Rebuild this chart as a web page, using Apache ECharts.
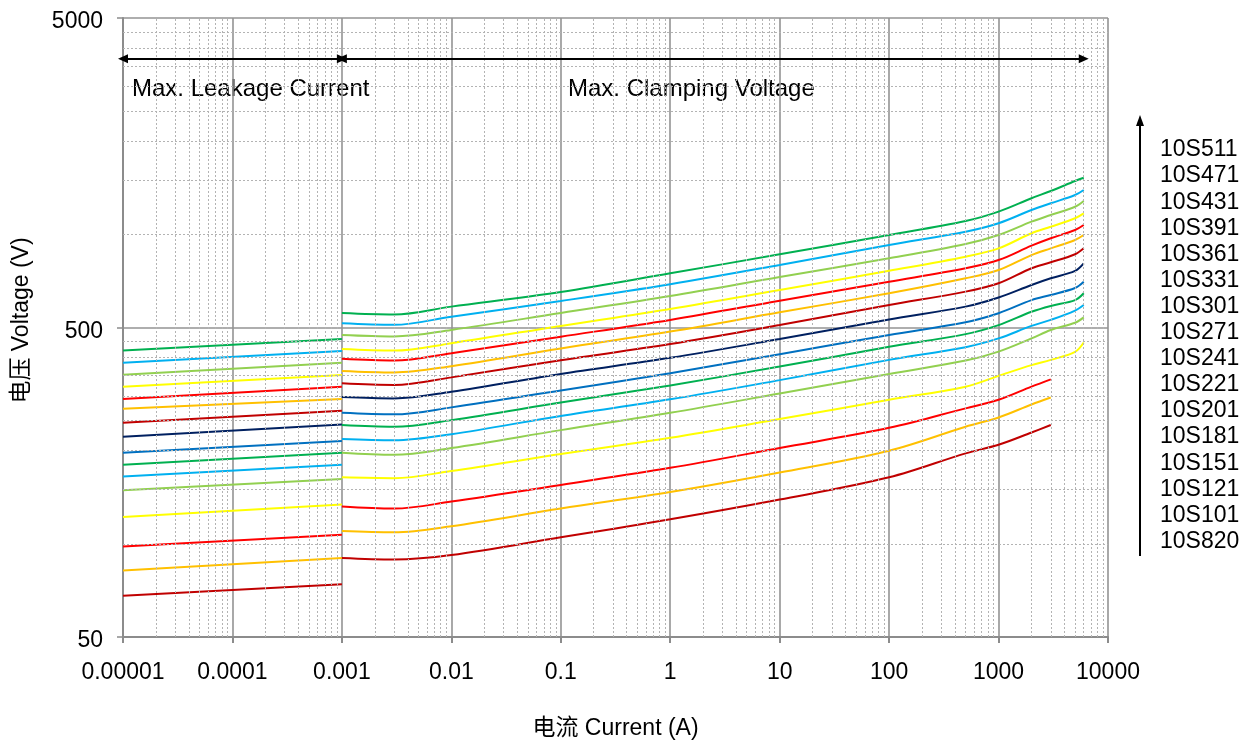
<!DOCTYPE html>
<html>
<head>
<meta charset="utf-8">
<title>10S V-I characteristic</title>
<script src="https://cdn.jsdelivr.net/npm/echarts@6/dist/echarts.min.js"></script>
<style>
  html, body { margin: 0; padding: 0; background: #fff; }
  #chart { width: 1257px; height: 741px; }
</style>
</head>
<body>
<div id="chart"></div>
<script>
// series names, top to bottom
const seriesNames = ['10S511', '10S471', '10S431', '10S391', '10S361', '10S331', '10S301', '10S271',
  '10S241', '10S221', '10S201', '10S181', '10S151', '10S121', '10S101', '10S820'];
const seriesColors = ['#00B050', '#00B0F0', '#92D050', '#FFFF00', '#FF0000', '#FFC000', '#C00000', '#002060',
  '#0070C0', '#00B050', '#00B0F0', '#92D050', '#FFFF00', '#FF0000', '#FFC000', '#C00000'];

// leakage region: current (A) and voltage (V) at both ends
const leakCurrent = [0.00001, 0.001];
const leakVoltage = [
  [421, 459], [385, 420], [352, 385], [322, 351], [294, 322], [273, 294], [246, 269], [222, 243],
  [197, 215], [180, 197], [165, 180], [149, 162], [122, 134], [98, 107], [82, 90], [68, 74]
];

// clamping region
const clampCurrent = [0.001, 0.003, 0.01, 0.1, 1, 10, 100, 500, 1000, 2000, 3000, 5000, 6000];
const clampVoltage = [
  [557, 551, 584, 651, 748, 862, 995, 1104, 1184, 1308, 1380, 1487, 1524],
  [516, 510, 542, 609, 690, 796, 924, 1020, 1086, 1198, 1260, 1340, 1391],
  [473, 468, 491, 557, 632, 728, 837, 931, 995, 1099, 1155, 1228, 1281],
  [426, 421, 445, 506, 574, 661, 763, 847, 901, 1008, 1058, 1127, 1169],
  [396, 391, 413, 467, 529, 610, 703, 777, 826, 919, 971, 1033, 1072],
  [362, 358, 375, 428, 485, 560, 645, 721, 767, 857, 901, 959, 995],
  [330, 326, 345, 392, 442, 509, 591, 653, 695, 777, 812, 862, 901],
  [298, 295, 310, 354, 399, 459, 531, 584, 625, 686, 721, 762, 806],
  [265, 262, 276, 313, 356, 410, 473, 520, 556, 613, 637, 671, 703],
  [242, 239, 251, 286, 325, 374, 433, 476, 509, 562, 587, 613, 645],
  [218, 216, 226, 259, 293, 338, 393, 432, 461, 506, 529, 567, 591],
  [197, 194, 204, 233, 265, 306, 354, 391, 418, 461, 491, 518, 539],
  [164, 163, 172, 195, 220, 253, 292, 322, 349, 378, 393, 417, 447],
  [132, 130, 137, 155, 176, 204, 237, 274, 292, 322, 340],
  [110, 109, 114, 130, 147, 170, 200, 239, 256, 282, 297],
  [90, 89, 92, 105, 120, 139, 164, 196, 209, 229, 242]
];

const xTickLabels = ['0.00001', '0.0001', '0.001', '0.01', '0.1', '1', '10', '100', '1000', '10000'];
const yTickValues = [50, 500, 5000];

const arrowVoltage = 3690;
const leakArrow = [0.00001, 0.001];
const clampArrow = [0.001, 6000];

const FONT = '"Liberation Sans", Arial, "Noto Sans CJK SC", sans-serif';

// minor grid lines (2..9 of each decade), drawn as full-height / full-width segments
const xMin = 0.00001, xMax = 10000, yMin = 50, yMax = 5000;
const minorLines = [];
for (let e = -5; e < 4; e++) {
  for (let k = 2; k <= 9; k++) {
    const x = k * Math.pow(10, e);
    minorLines.push([{ coord: [x, yMin] }, { coord: [x, yMax] }]);
  }
}
[50, 500].forEach(function (b) {
  for (let k = 2; k <= 9; k++) {
    minorLines.push([{ coord: [xMin, b * k] }, { coord: [xMax, b * k] }]);
  }
});

let series = [{
  type: 'line',
  data: [],
  z: 1,
  silent: true,
  markLine: {
    silent: true,
    symbol: ['none', 'none'],
    animation: false,
    label: { show: false },
    lineStyle: { color: '#b3b3b3', width: 1, type: [2, 2] },
    data: minorLines
  }
}, {
  type: 'line',
  data: [],
  z: 5,
  silent: true,
  markLine: {
    silent: true,
    symbol: ['triangle', 'triangle'],
    symbolSize: [9, 10],
    animation: false,
    label: { show: false },
    lineStyle: { color: '#000', width: 2, type: 'solid' },
    data: [
      [{ coord: [leakArrow[0], arrowVoltage] }, { coord: [leakArrow[1], arrowVoltage] }],
      [{ coord: [clampArrow[0], arrowVoltage] }, { coord: [clampArrow[1], arrowVoltage] }]
    ]
  }
}];

seriesNames.forEach(function (name, i) {
  const style = { color: seriesColors[i], width: 2 };
  series.push({
    name: name,
    type: 'line',
    z: 3,
    showSymbol: false,
    symbol: 'none',
    lineStyle: style,
    itemStyle: { color: seriesColors[i] },
    data: leakCurrent.map(function (c, j) { return [c, leakVoltage[i][j]]; })
  });
  series.push({
    name: name,
    type: 'line',
    z: 3,
    showSymbol: false,
    symbol: 'none',
    smooth: 0.35,
    lineStyle: style,
    itemStyle: { color: seriesColors[i] },
    data: clampVoltage[i].map(function (v, j) { return [clampCurrent[j], v]; })
  });
});

const chart = echarts.init(document.getElementById('chart'), null, { renderer: 'canvas' });

const option = {
  animation: false,
  backgroundColor: '#fff',
  textStyle: { fontFamily: FONT },
  grid: { left: 123, right: 149, top: 18, bottom: 104, containLabel: false, outerBoundsMode: 'none' },
  legend: {
    data: seriesNames,
    orient: 'vertical',
    left: 1150,
    top: 132,
    icon: 'none',
    itemWidth: 0,
    itemHeight: 26,
    itemGap: 0.1,
    selectedMode: false,
    textStyle: { fontFamily: FONT, fontSize: 23, color: '#000', lineHeight: 26 }
  },
  xAxis: {
    type: 'log',
    logBase: 10,
    min: xMin,
    max: xMax,
    splitNumber: 9,
    name: '电流 Current (A)',
    nameLocation: 'middle',
    nameGap: 80,
    nameTextStyle: { fontFamily: FONT, fontSize: 23, color: '#000' },
    axisLine: { show: true, lineStyle: { color: '#8c8c8c', width: 2 } },
    axisTick: { show: true, length: 6, lineStyle: { color: '#8c8c8c', width: 2 } },
    axisLabel: {
      color: '#000', fontSize: 23, fontFamily: FONT, margin: 24,
      formatter: function (v) { return xTickLabels[Math.round(Math.log10(v)) + 5]; }
    },
    splitLine: { show: true, lineStyle: { color: '#939393', width: 1.6 } }
  },
  yAxis: {
    type: 'log',
    logBase: 10,
    min: yMin,
    max: yMax,
    name: '电压 Voltage (V)',
    nameLocation: 'middle',
    nameGap: 90,
    nameTextStyle: { fontFamily: FONT, fontSize: 23, color: '#000', padding: [0, 0, 0, 14] },
    axisLine: { show: true, lineStyle: { color: '#8c8c8c', width: 2 } },
    axisTick: { show: true, length: 6, customValues: yTickValues, lineStyle: { color: '#8c8c8c', width: 1.5 } },
    axisLabel: {
      color: '#000', fontSize: 23, fontFamily: FONT, margin: 20,
      verticalAlign: 'top',
      lineHeight: 8,
      customValues: yTickValues,
      formatter: function (v) { return String(Math.round(v)); }
    },
    splitLine: { show: true, lineStyle: { color: '#939393', width: 1.6 } }
  },
  graphic: [
    { type: 'text', left: 132, top: 77, style: { text: 'Max. Leakage Current', fill: '#000', font: '24px ' + FONT } },
    { type: 'text', left: 568, top: 77, style: { text: 'Max. Clamping Voltage', fill: '#000', font: '24px ' + FONT } },
    { type: 'line', shape: { x1: 1140, y1: 556, x2: 1140, y2: 124 }, style: { stroke: '#000', lineWidth: 2 } },
    { type: 'polygon', shape: { points: [[1140, 115], [1136, 126], [1144, 126]] }, style: { fill: '#000' } }
  ],
  series: series
};

chart.setOption(option);
</script>
</body>
</html>
